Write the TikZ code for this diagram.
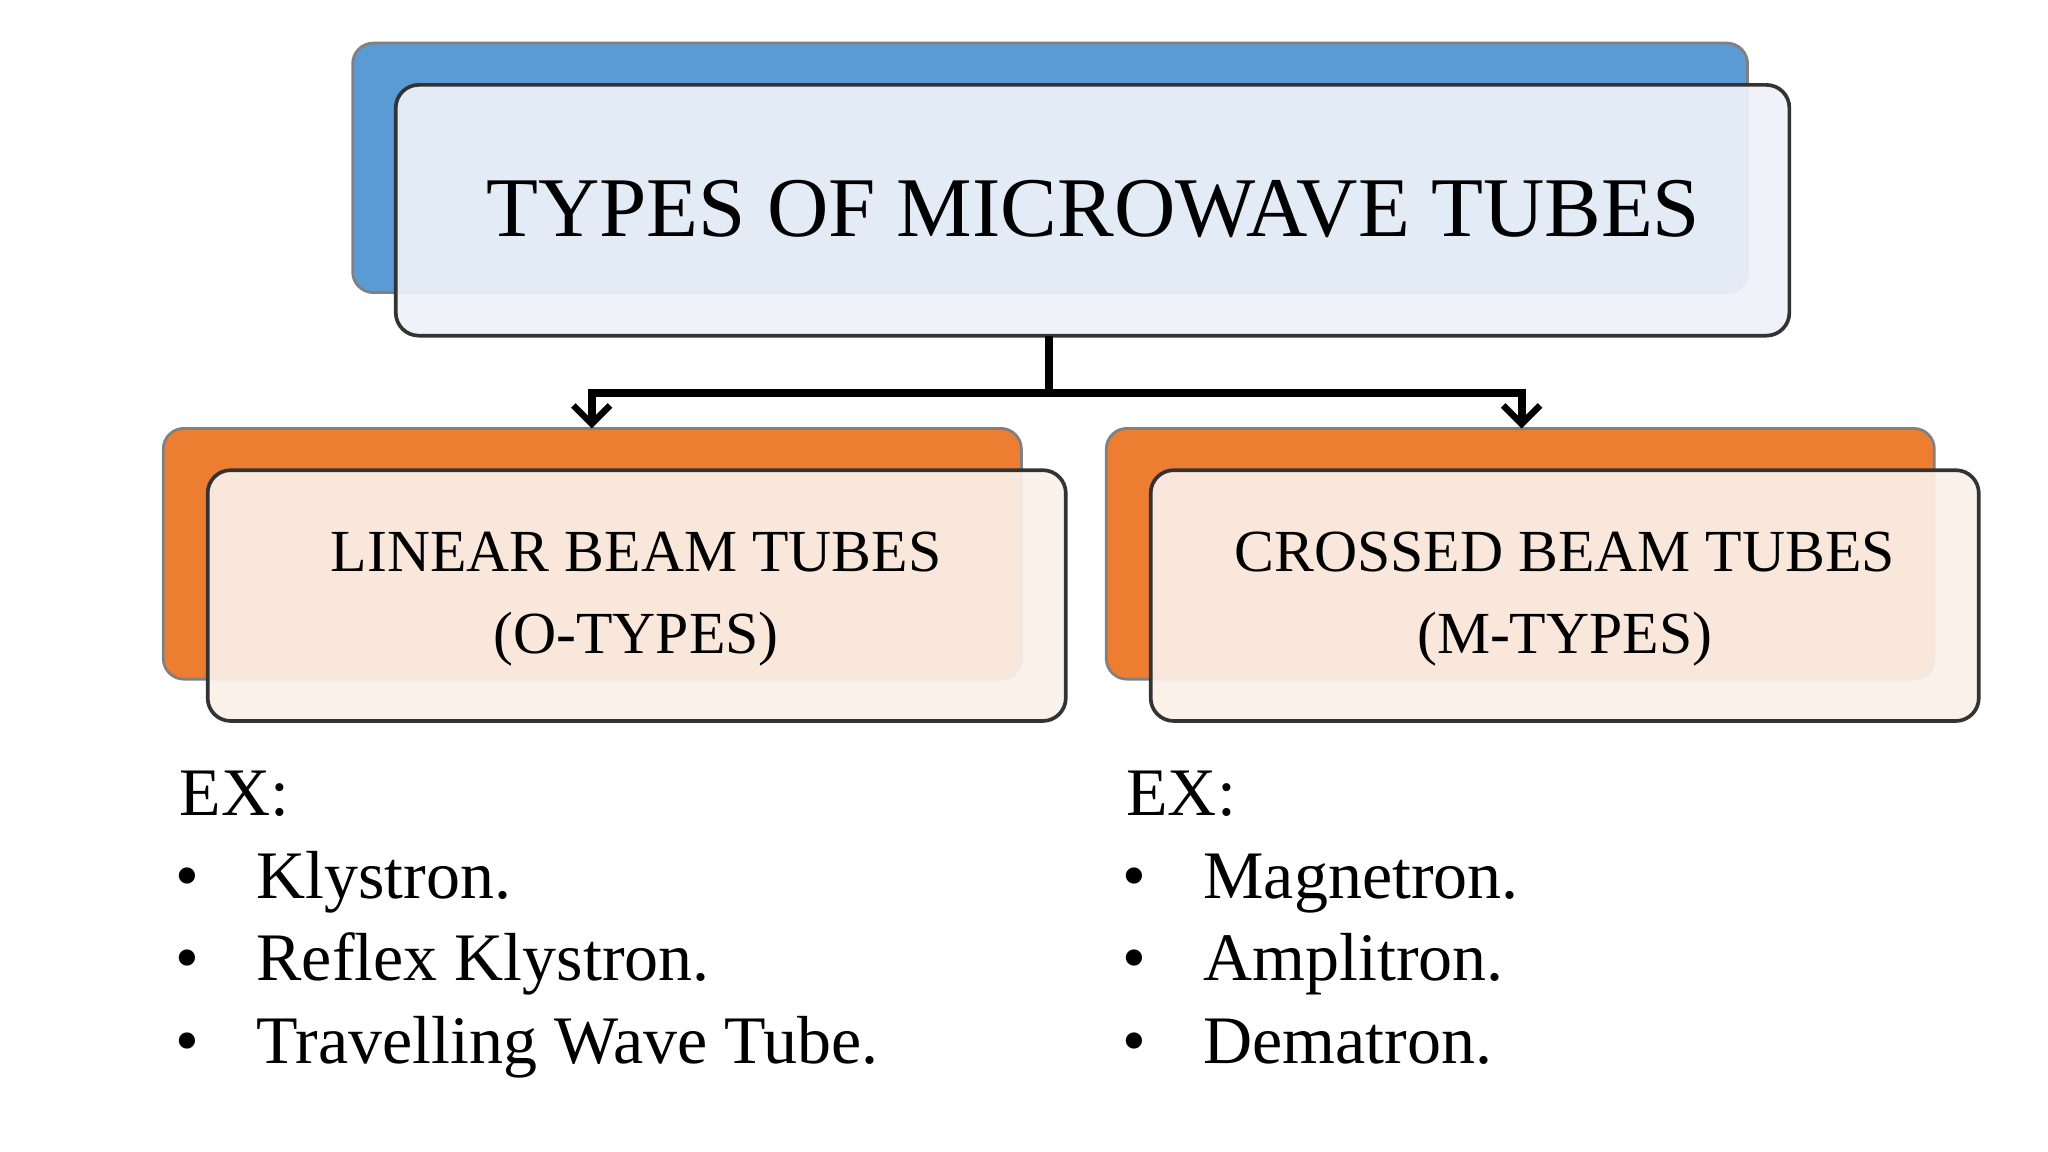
\documentclass[tikz,border=0pt]{standalone}
\usepackage{fontspec}
\setmainfont{Liberation Serif}
\usetikzlibrary{arrows.meta}
\begin{document}
\begin{tikzpicture}[x=0.01cm,y=-0.01cm,
  back/.style={rounded corners=4.5pt, draw=black!50, line width=0.6pt},
  front/.style={rounded corners=5pt, draw=black!80, line width=0.8pt, fill opacity=0.93},
  big/.style={font=\fontsize{18.5pt}{22pt}\selectfont, anchor=center},
  mid/.style={font=\fontsize{13pt}{16pt}\selectfont, anchor=center},
  txt/.style={font=\fontsize{14.8pt}{18pt}\selectfont, anchor=base west},
  conn/.style={line width=1.8pt, -{Straight Barb[length=4pt,width=8pt,line width=1.4pt]}}]
\useasboundingbox (0,0) rectangle (1568,882);
\fill[white] (0,0) rectangle (1568,882);
% top
\draw[back, fill={rgb,255:red,91;green,155;blue,213}] (270,33) rectangle (1338,224);
\draw[front, fill={rgb,255:red,238;green,242;blue,249}] (303,65) rectangle (1370,257);
\node[big] (top) at (837,160) {TYPES OF MICROWAVE TUBES};
\coordinate (tb) at (803,257);
% left
\draw[back, fill={rgb,255:red,237;green,125;blue,49}] (125,328) rectangle (782,520);
\draw[front, fill={rgb,255:red,251;green,240;blue,234}] (159,360) rectangle (816,552);
\node[mid] (l1) at (487,423) {LINEAR BEAM TUBES};
\node[mid] (l2) at (487,489) {(O-TYPES)};
% right
\draw[back, fill={rgb,255:red,237;green,125;blue,49}] (847,328) rectangle (1481,520);
\draw[front, fill={rgb,255:red,251;green,240;blue,234}] (881,360) rectangle (1515,552);
\node[mid] (r1) at (1198,423) {CROSSED BEAM TUBES};
\node[mid] (r2) at (1198,489) {(M-TYPES)};
% connectors
\coordinate (la) at (453,328);
\coordinate (ra) at (1165,328);
\draw[conn] (tb) -- (803,301) -| (la);
\draw[conn] (803,301) -| (ra);
% lists
\node[txt] (lex) at (125,624) {EX:};
\foreach \y/\t [count=\i] in {688/Klystron., 751/Reflex Klystron., 814/Travelling Wave Tube.}{
  \node[txt] (lb\i) at (122,\y) {\textbullet};
  \node[txt] (lt\i) at (184,\y) {\t};
}
\node[txt] (rex) at (850,624) {EX:};
\foreach \y/\t [count=\i] in {688/Magnetron., 751/Amplitron., 814/Dematron.}{
  \node[txt] (rb\i) at (847,\y) {\textbullet};
  \node[txt] (rt\i) at (909,\y) {\t};
}
\end{tikzpicture}
\end{document}
